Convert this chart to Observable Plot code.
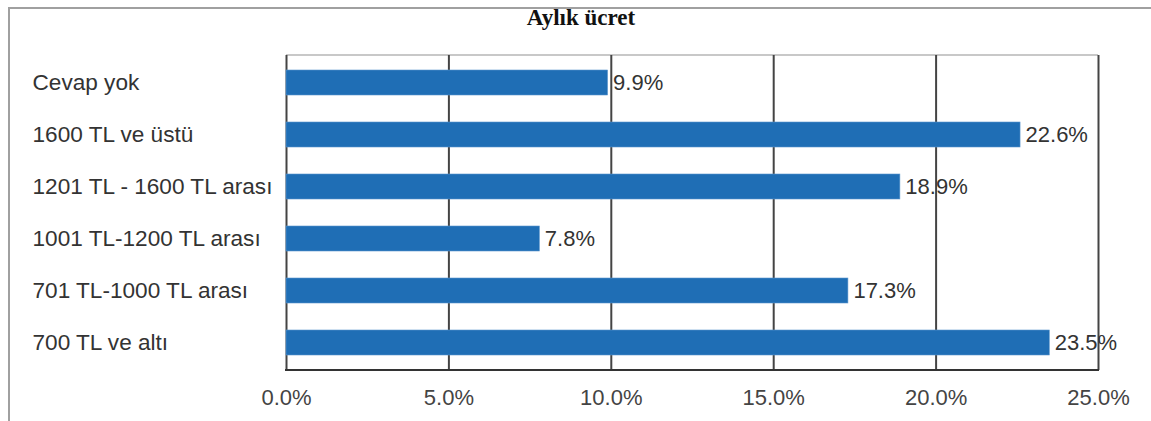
<!DOCTYPE html>
<html>
<head>
<meta charset="utf-8">
<script src="https://cdn.jsdelivr.net/npm/d3@7"></script>
<script src="https://cdn.jsdelivr.net/npm/@observablehq/plot@0.6"></script>
<style>
  html, body { margin: 0; padding: 0; background: #fff; overflow: hidden; }
  #wrap { position: relative; width: 1151px; height: 421px; overflow: hidden; }
  #border { position: absolute; left: 8px; top: 7px; width: 1200px; height: 500px; border: 2px solid #a0a0a0; box-sizing: border-box; }
  #title { position: absolute; left: 0; width: 1162px; top: 7px; text-align: center; font: bold 23px "Liberation Serif", "DejaVu Serif", serif; line-height: 22px; color: #111; }
  #chart { position: absolute; left: 0; top: 0; }
</style>
</head>
<body>
<div id="wrap">
  <div id="border"></div>
  <div id="chart"></div>
  <div id="title">Aylık ücret</div>
</div>
<script>
const categories = ["Cevap yok", "1600 TL ve üstü", "1201 TL - 1600 TL arası", "1001 TL-1200 TL arası", "701 TL-1000 TL arası", "700 TL ve altı"];
const values = [9.9, 22.6, 18.9, 7.8, 17.3, 23.5];
const tickValues = [0, 5, 10, 15, 20, 25];
const tickLabels = ["0.0%", "5.0%", "10.0%", "15.0%", "20.0%", "25.0%"];

const data = categories.map((c, i) => ({category: c, value: values[i], label: values[i].toFixed(1) + "%"}));

const H = 421, MT = 55, MB = 51;
const frameH = H - MT - MB;

const chart = Plot.plot({
  width: 1151,
  height: H,
  marginLeft: 286,
  marginRight: 53,
  marginTop: MT,
  marginBottom: MB,
  style: {fontFamily: "'Liberation Sans', Arial, sans-serif", background: "transparent"},
  x: {domain: [0, 25], axis: null},
  y: {domain: categories, paddingInner: 0.52, paddingOuter: 0.26, axis: null},
  marks: [
    Plot.barX([0], {x1: 0, x2: 25, fill: "#c8c8c8", insetTop: -1, insetBottom: frameH - 1}),
    Plot.ruleX(tickValues, {stroke: "#444", strokeWidth: 2}),
    Plot.barX(data, {x: "value", y: "category", fill: "#1f6eb5", stroke: "#5b95cc", strokeWidth: 0.6}),
    Plot.barX([0], {x1: 0, x2: 25, fill: "#333", insetTop: frameH - 1, insetBottom: -1, insetLeft: -1, insetRight: -1}),
    Plot.text(data, {x: "value", y: "category", text: "label", textAnchor: "start", dx: 5, fontSize: 22, fill: "#333"}),
    Plot.text(categories, {y: d => d, text: d => d, frameAnchor: "left", textAnchor: "start", dx: -254, fontSize: 22.6, fill: "#333"}),
    Plot.text(tickValues, {x: d => d, text: (d, i) => tickLabels[i], frameAnchor: "bottom", lineAnchor: "top", dy: 19, fontSize: 22, fill: "#444"})
  ]
});
document.getElementById("chart").appendChild(chart);
</script>
</body>
</html>
